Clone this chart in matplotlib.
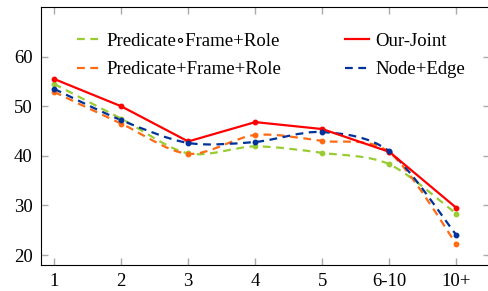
import numpy as np
import matplotlib
matplotlib.use("Agg")
import matplotlib.pyplot as plt
from matplotlib.path import Path
from matplotlib.patches import PathPatch
from matplotlib.lines import Line2D

plt.rcParams['font.family'] = ['Liberation Serif', 'DejaVu Serif']

# data
categories = ["1", "2", "3", "4", "5", "6-10", "10+"]
pred_circ_frame_role = [54.5, 47.5, 40.5, 41.9, 40.6, 38.3, 28.3]
pred_frame_role = [52.9, 46.5, 40.4, 44.2, 43.0, 40.7, 22.2]
node_edge = [53.5, 47.2, 42.6, 42.8, 44.8, 40.9, 24.0]
our_joint = [55.5, 50.0, 42.9, 46.8, 45.4, 40.8, 29.5]


def smooth_path(x, y, k=0.15):
    # bezier curve through the points, like pgfplots "smooth"
    pts = np.column_stack([x, y]).astype(float)
    n = len(pts)
    verts = [pts[0]]
    codes = [Path.MOVETO]
    for i in range(n - 1):
        p0 = pts[max(i - 1, 0)]
        p1 = pts[i]
        p2 = pts[i + 1]
        p3 = pts[min(i + 2, n - 1)]
        c1 = p1 + (p2 - p0) * k
        c2 = p2 - (p3 - p1) * k
        verts += [c1, c2, p2]
        codes += [Path.CURVE4] * 3
    return Path(verts, codes)


fig = plt.figure(figsize=(4.88, 2.91), dpi=100)
ax = fig.add_axes([41 / 488, 26 / 291, 449 / 488, 258 / 291])

xs = np.arange(len(categories)) + 1

series = [
    (pred_circ_frame_role, "#99cc33", "Predicate\u2218Frame+Role", True),
    (pred_frame_role, "#ff6a13", "Predicate+Frame+Role", True),
    (our_joint, "#ff0000", "Our-Joint", False),
    (node_edge, "#003399", "Node+Edge", True),
]

handles = []
for vals, col, lab, dashed in series:
    ls = (0, (3.5, 2.5)) if dashed else "-"
    if dashed:
        p = PathPatch(smooth_path(xs, vals), fill=False, edgecolor=col, lw=1.6,
                      linestyle=ls, zorder=2)
        ax.add_patch(p)
    else:
        ax.plot(xs, vals, color=col, lw=1.6, zorder=3)
    ax.plot(xs, vals, "o", color=col, ms=3.2, zorder=3)
    handles.append(Line2D([], [], color=col, lw=1.6, linestyle=ls))

ax.set_xlim(0.806, 7.5)
ax.set_ylim(18, 70)
ax.set_xticks(xs)
ax.set_xticklabels(categories)
ax.set_yticks([20, 30, 40, 50, 60])
ax.tick_params(direction="in", length=5, width=1, color="#aaaaaa",
               top=True, right=True, labelsize=13.5, pad=6)

ax.legend(handles, [s[2] for s in series], ncol=2, frameon=False,
          loc="upper left", bbox_to_anchor=(0.042, 0.965), fontsize=13.5,
          handlelength=1.25, columnspacing=3.4, labelspacing=0.6,
          handletextpad=0.35)

fig.savefig("out.png", dpi=100)
